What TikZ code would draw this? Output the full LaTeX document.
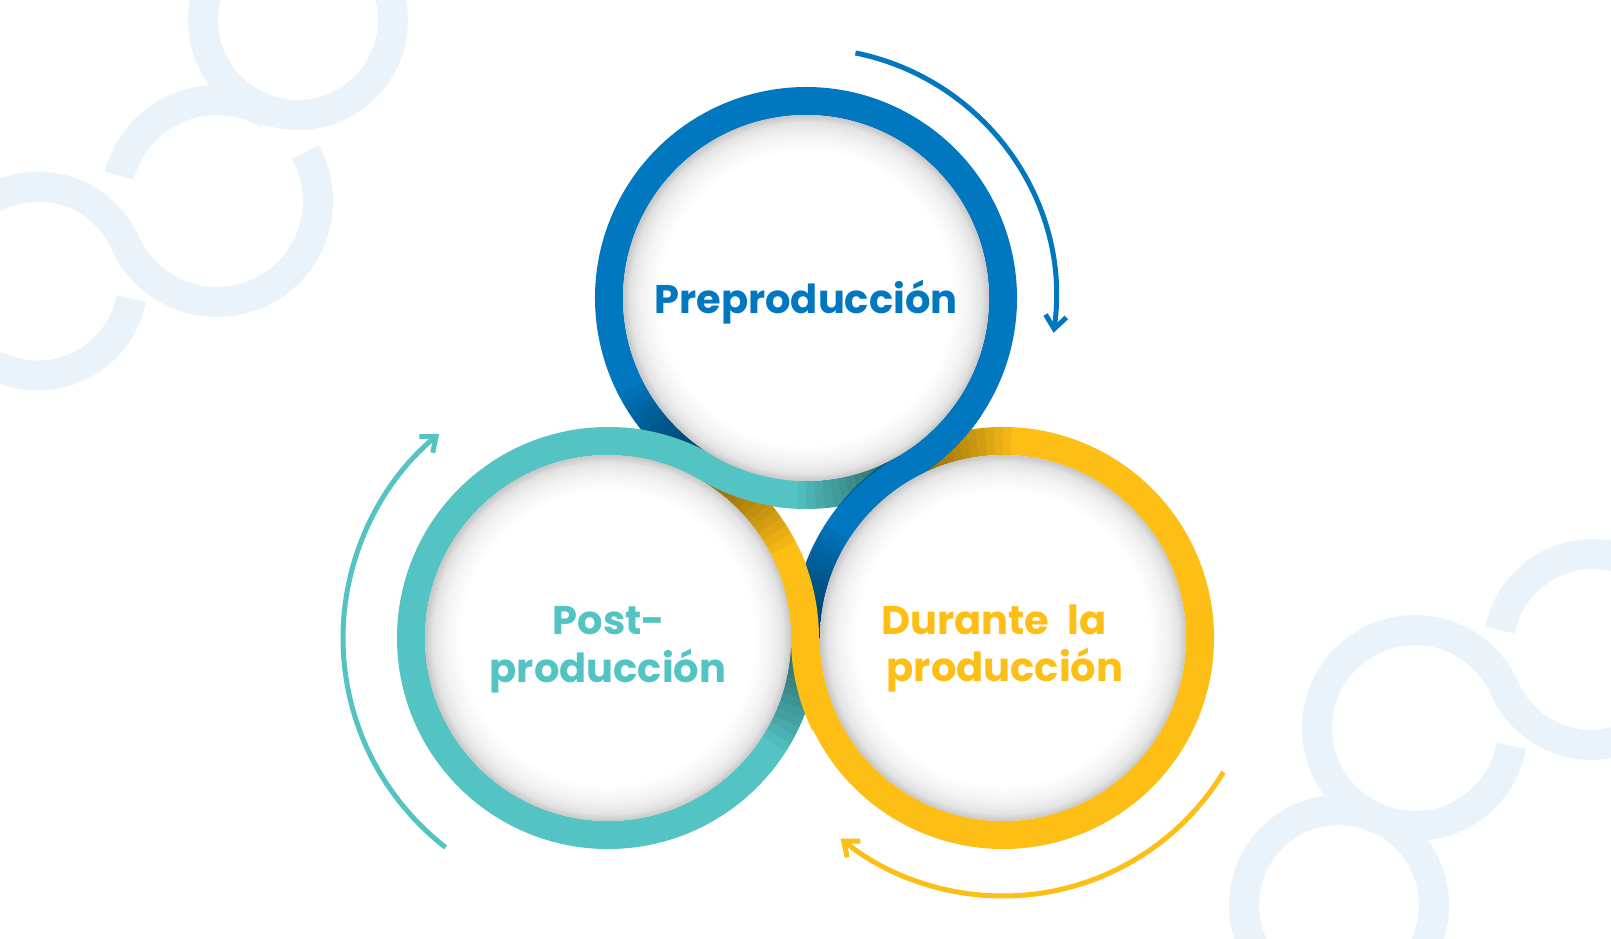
\documentclass[tikz,border=0pt]{standalone}
\usepackage{fontspec}
\setmainfont{Poppins}
\usetikzlibrary{arrows.meta}
\definecolor{cblue}{HTML}{0077BE}
\definecolor{cteal}{HTML}{53C4C3}
\definecolor{cyel}{HTML}{FDBE16}
\definecolor{cdeco}{HTML}{EBF3FA}
\pgfdeclareradialshading{diskshade}{\pgfpoint{0bp}{0bp}}{color(0bp)=(white); color(20bp)=(white); color(22.5bp)=(black!5); color(24bp)=(black!11); color(25bp)=(black!22); color(50bp)=(black!22)}
\begin{document}
\begin{tikzpicture}[x=1pt,y=-1pt,
  deco/.style={draw=cdeco, line width=30pt},
  ribbon/.style={line width=28pt},
  shadowband/.style={line width=28pt, draw=black, opacity=0.045},
  arr/.style={line width=5pt, -{Straight Barb[length=13pt,width=21pt]}},
  lbl/.style={font=\fontsize{40}{48}\selectfont\bfseries, inner sep=0pt, anchor=base}]
\useasboundingbox (0,0) rectangle (1611,938);
\fill[white] (0,0) rectangle (1611,938);
% decoration centres
\coordinate (dA) at (298,20);
\coordinate (dB) at (217,201);
\coordinate (dC) at (38,280.5);
\coordinate (dD) at (1415,728);
\coordinate (dE) at (1593,649);
\coordinate (dF) at (1339,905);
% decorations
\draw[deco] (dA) circle[radius=95];
\draw[deco] (dB) ++(194.5:101) arc[start angle=194.5, end angle=300, radius=101];
\draw[deco] (dB) ++(331:101) arc[start angle=331, end angle=515.7, radius=101] arc[start angle=335.7, end angle=150, radius=95];
\draw[deco] (dC) ++(11:95) arc[start angle=11, end angle=200, radius=95];
\draw[deco] (dF) circle[radius=95];
\draw[deco] (dD) ++(10.5:98) arc[start angle=10.5, end angle=336.1, radius=98] arc[start angle=156.1, end angle=10, radius=95];
\draw[deco] (dE) ++(191.5:95) arc[start angle=191.5, end angle=350, radius=95];
% main centres
\coordinate (cB) at (806,298);
\coordinate (cT) at (608,638);
\coordinate (cY) at (1003,638);
% base ribbons
\draw[ribbon, cblue] (cB) ++(120.22:197) arc[start angle=120.22, end angle=419.92, radius=197];
\draw[ribbon, cteal] (cB) ++(59.92:197) arc[start angle=59.92, end angle=120.22, radius=197];
\draw[ribbon, cteal] (cT) ++(0:197) arc[start angle=0, end angle=300.22, radius=197];
\draw[ribbon, cyel] (cT) ++(300.22:197) arc[start angle=300.22, end angle=360, radius=197];
\draw[ribbon, cyel] (cY) ++(-120.08:197) arc[start angle=-120.08, end angle=180, radius=197];
\draw[ribbon, cblue] (cY) ++(180:197) arc[start angle=180, end angle=239.92, radius=197];
% shadows of the tucked ends
\foreach \c/\a in {cB/120.22, cT/300.22, cB/59.92, cY/239.92, cY/180, cT/0}{
  \foreach \k in {1,...,13}{
    \draw[shadowband] (\c) ++(\a:197) arc[start angle=\a, end angle={\a+2.5*\k}, radius=197];
  }
}
% ribbons passing over
\draw[ribbon, cteal] (cT) ++(274:197) arc[start angle=274, end angle=300.22, radius=197] arc[start angle=120.22, end angle=94, radius=197];
\draw[ribbon, cblue] (cB) ++(34:197) arc[start angle=34, end angle=59.92, radius=197] arc[start angle=239.92, end angle=214, radius=197];
\draw[ribbon, cyel] (cT) ++(334:197) arc[start angle=334, end angle=360, radius=197] arc[start angle=180, end angle=154, radius=197];
% white discs
\foreach \c in {cB,cT,cY}{\shade[shading=diskshade] (\c) circle[radius=183];}
% arrows
\draw[arr, cblue] (cB) ++(-78.6:250) arc[start angle=-78.6, end angle=8, radius=250];
\draw[arr, cteal] (cT) ++(127.8:265) arc[start angle=127.8, end angle=230.4, radius=265];
\draw[arr, cyel] (cY) ++(31.3:258) arc[start angle=31.3, end angle=129, radius=258];
% labels
\node[lbl, text=cblue] (t1) at (806,313) {Preproducción};
\node[lbl, text=cteal] (t2) at (609,634) {Post-};
\node[lbl, text=cteal] (t3) at (608,682) {producción};
\node[lbl, text=cyel] (t4) at (994,634) {Durante\hspace{0.45em}la};
\node[lbl, text=cyel] (t5) at (1005,681) {producción};
\end{tikzpicture}
\end{document}
